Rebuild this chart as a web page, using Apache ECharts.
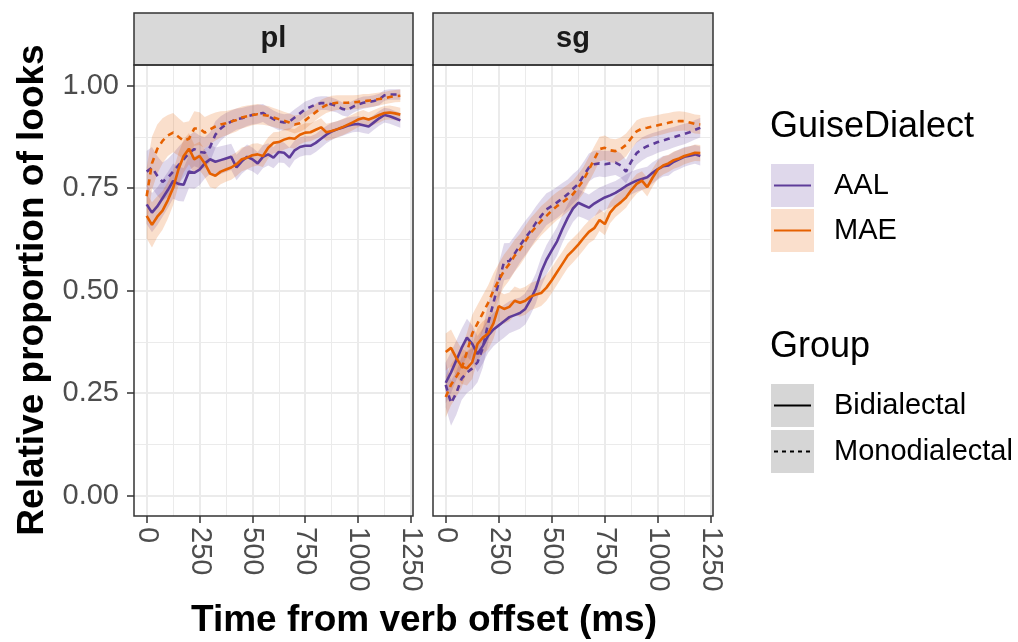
<!DOCTYPE html>
<html><head><meta charset="utf-8">
<script src="https://cdn.jsdelivr.net/npm/echarts@6/dist/echarts.min.js"></script>
<style>html,body{margin:0;padding:0;background:#fff}#c{width:1018px;height:642px}</style>
</head><body><div id="c"></div>
<script>
// ---------------- data ----------------
const panels = ['pl', 'sg'];
const timeMs = [0,25,50,75,100,125,150,175,200,225,250,275,300,325,350,375,400,425,450,475,500,525,550,575,600,625,650,675,700,725,750,775,800,825,850,875,900,925,950,975,1000,1025,1050,1075,1100,1125,1150,1175,1200];
const xTicks = [0,250,500,750,1000,1250];
const xMinor = [125,375,625,875,1125];
const yTicks = [0,0.25,0.5,0.75,1];
const yMinor = [0.125,0.375,0.625,0.875];

// pl panel
const plAALBi   = [0.71,0.69,0.705,0.725,0.745,0.767,0.76,0.758,0.79,0.787,0.795,0.81,0.82,0.814,0.818,0.822,0.826,0.80,0.815,0.826,0.82,0.81,0.826,0.832,0.824,0.838,0.836,0.824,0.842,0.85,0.853,0.853,0.86,0.87,0.88,0.888,0.893,0.897,0.902,0.905,0.906,0.903,0.90,0.91,0.92,0.928,0.925,0.92,0.915];
const plAALMono = [0.79,0.80,0.78,0.765,0.775,0.79,0.805,0.82,0.835,0.845,0.838,0.836,0.85,0.88,0.895,0.905,0.912,0.918,0.92,0.925,0.928,0.93,0.933,0.925,0.918,0.912,0.91,0.912,0.922,0.932,0.942,0.948,0.954,0.957,0.957,0.954,0.95,0.943,0.94,0.948,0.954,0.958,0.96,0.962,0.966,0.976,0.978,0.978,0.978];
const plMAEBi   = [0.682,0.66,0.68,0.695,0.72,0.75,0.795,0.828,0.846,0.82,0.828,0.81,0.785,0.78,0.79,0.795,0.80,0.808,0.82,0.824,0.83,0.832,0.828,0.848,0.86,0.862,0.868,0.872,0.87,0.88,0.885,0.886,0.892,0.898,0.886,0.889,0.893,0.898,0.904,0.91,0.917,0.921,0.917,0.922,0.928,0.933,0.934,0.932,0.929];
const plMAEMono = [0.73,0.81,0.845,0.865,0.878,0.885,0.875,0.865,0.87,0.895,0.895,0.885,0.893,0.90,0.905,0.908,0.912,0.916,0.922,0.925,0.928,0.93,0.928,0.926,0.922,0.918,0.914,0.91,0.905,0.908,0.915,0.925,0.935,0.945,0.952,0.956,0.958,0.958,0.958,0.959,0.96,0.962,0.963,0.965,0.967,0.969,0.972,0.974,0.975];
const plAALBiSe   = [0.048,0.048,0.046,0.045,0.044,0.043,0.042,0.041,0.04,0.039,0.038,0.037,0.036,0.035,0.034,0.033,0.032,0.031,0.03,0.03,0.029,0.028,0.028,0.027,0.026,0.026,0.025,0.025,0.024,0.024,0.023,0.023,0.022,0.022,0.021,0.021,0.02,0.02,0.02,0.019,0.019,0.019,0.018,0.018,0.018,0.018,0.018,0.018,0.018];
const plAALMonoSe = [0.05,0.05,0.048,0.047,0.046,0.045,0.045,0.044,0.043,0.042,0.04,0.038,0.036,0.033,0.03,0.028,0.027,0.026,0.025,0.024,0.023,0.023,0.022,0.022,0.021,0.021,0.02,0.02,0.02,0.019,0.019,0.018,0.018,0.017,0.017,0.017,0.016,0.016,0.016,0.015,0.015,0.015,0.014,0.014,0.014,0.013,0.013,0.013,0.013];
const plMAEBiSe   = [0.055,0.055,0.05,0.047,0.045,0.042,0.04,0.04,0.038,0.036,0.035,0.034,0.033,0.032,0.031,0.03,0.03,0.029,0.029,0.028,0.028,0.027,0.027,0.026,0.026,0.025,0.025,0.024,0.024,0.023,0.023,0.022,0.022,0.022,0.021,0.021,0.02,0.02,0.02,0.019,0.019,0.019,0.018,0.018,0.018,0.017,0.017,0.017,0.017];
const plMAEMonoSe = [0.07,0.065,0.06,0.055,0.05,0.048,0.046,0.045,0.043,0.042,0.04,0.038,0.036,0.034,0.032,0.03,0.029,0.028,0.027,0.026,0.025,0.025,0.024,0.024,0.023,0.023,0.022,0.022,0.022,0.021,0.021,0.02,0.02,0.02,0.019,0.019,0.018,0.018,0.018,0.017,0.017,0.017,0.016,0.016,0.016,0.015,0.015,0.015,0.015];

// sg panel
const sgAALBi   = [0.275,0.30,0.33,0.36,0.385,0.37,0.345,0.365,0.39,0.405,0.415,0.425,0.435,0.44,0.445,0.455,0.478,0.505,0.545,0.575,0.598,0.62,0.65,0.677,0.70,0.714,0.708,0.702,0.712,0.72,0.727,0.732,0.738,0.746,0.755,0.762,0.768,0.772,0.776,0.787,0.796,0.803,0.805,0.814,0.82,0.826,0.829,0.832,0.828];
const sgAALMono = [0.27,0.225,0.25,0.285,0.30,0.31,0.325,0.36,0.42,0.47,0.52,0.57,0.572,0.59,0.61,0.628,0.645,0.665,0.682,0.698,0.706,0.715,0.725,0.735,0.748,0.76,0.78,0.80,0.808,0.81,0.808,0.81,0.812,0.805,0.79,0.815,0.835,0.845,0.852,0.857,0.862,0.866,0.87,0.874,0.878,0.882,0.886,0.892,0.897];
const sgMAEBi   = [0.35,0.36,0.335,0.315,0.31,0.325,0.37,0.385,0.395,0.42,0.462,0.455,0.46,0.475,0.47,0.475,0.485,0.49,0.494,0.507,0.525,0.545,0.565,0.585,0.598,0.612,0.628,0.643,0.652,0.672,0.662,0.69,0.705,0.715,0.727,0.745,0.76,0.768,0.752,0.775,0.795,0.805,0.81,0.818,0.822,0.828,0.832,0.836,0.835];
const sgMAEMono = [0.24,0.27,0.29,0.31,0.35,0.395,0.42,0.445,0.47,0.50,0.525,0.548,0.565,0.585,0.60,0.62,0.64,0.655,0.67,0.682,0.695,0.706,0.715,0.725,0.735,0.752,0.77,0.795,0.82,0.845,0.848,0.842,0.84,0.845,0.855,0.872,0.888,0.895,0.897,0.90,0.903,0.906,0.909,0.912,0.913,0.913,0.91,0.906,0.905];
const sgAALBiSe   = [0.05,0.05,0.048,0.047,0.046,0.045,0.044,0.043,0.042,0.041,0.04,0.04,0.039,0.039,0.038,0.038,0.037,0.037,0.036,0.036,0.035,0.035,0.034,0.034,0.033,0.033,0.032,0.032,0.031,0.031,0.03,0.03,0.029,0.029,0.028,0.028,0.027,0.027,0.026,0.026,0.025,0.025,0.025,0.024,0.024,0.024,0.023,0.023,0.023];
const sgAALMonoSe = [0.055,0.055,0.053,0.052,0.05,0.05,0.049,0.048,0.047,0.046,0.045,0.045,0.044,0.043,0.042,0.042,0.041,0.04,0.04,0.039,0.038,0.038,0.037,0.036,0.036,0.035,0.034,0.034,0.033,0.032,0.032,0.031,0.03,0.03,0.029,0.029,0.028,0.028,0.027,0.027,0.026,0.026,0.026,0.025,0.025,0.025,0.024,0.024,0.024];
const sgMAEBiSe   = [0.045,0.045,0.044,0.043,0.042,0.041,0.04,0.04,0.039,0.038,0.037,0.036,0.035,0.035,0.034,0.034,0.033,0.033,0.032,0.032,0.031,0.031,0.03,0.03,0.03,0.029,0.029,0.028,0.028,0.027,0.027,0.026,0.026,0.025,0.025,0.024,0.024,0.023,0.023,0.022,0.022,0.022,0.021,0.021,0.021,0.02,0.02,0.02,0.02];
const sgMAEMonoSe = [0.05,0.05,0.049,0.048,0.047,0.046,0.045,0.044,0.043,0.042,0.041,0.04,0.04,0.039,0.038,0.038,0.037,0.036,0.036,0.035,0.035,0.034,0.034,0.033,0.033,0.032,0.032,0.031,0.031,0.03,0.03,0.029,0.029,0.028,0.028,0.027,0.027,0.026,0.026,0.025,0.025,0.025,0.024,0.024,0.024,0.023,0.023,0.023,0.023];

// ---------------- chart ----------------
const FONT = '"Liberation Sans", Arial, Helvetica, sans-serif';
const COL  = {AAL: '#5E3C99', MAE: '#E66101'};
const FILL = {AAL: 'rgba(94,60,153,0.2)', MAE: 'rgba(230,97,1,0.2)'};
const DASH = [6, 5];

const defs = [
  {panel: 0, dialect: 'AAL', group: 'Bidialectal',   mean: plAALBi,   se: plAALBiSe},
  {panel: 0, dialect: 'AAL', group: 'Monodialectal', mean: plAALMono, se: plAALMonoSe},
  {panel: 0, dialect: 'MAE', group: 'Bidialectal',   mean: plMAEBi,   se: plMAEBiSe},
  {panel: 0, dialect: 'MAE', group: 'Monodialectal', mean: plMAEMono, se: plMAEMonoSe},
  {panel: 1, dialect: 'AAL', group: 'Bidialectal',   mean: sgAALBi,   se: sgAALBiSe},
  {panel: 1, dialect: 'AAL', group: 'Monodialectal', mean: sgAALMono, se: sgAALMonoSe},
  {panel: 1, dialect: 'MAE', group: 'Bidialectal',   mean: sgMAEBi,   se: sgMAEBiSe},
  {panel: 1, dialect: 'MAE', group: 'Monodialectal', mean: sgMAEMono, se: sgMAEMonoSe}
];

const GRIDS = [
  {left: 134, top: 65, width: 279, height: 451},
  {left: 433, top: 65, width: 280, height: 451}
];

const xAxes = [], yAxes = [];
GRIDS.forEach((g, p) => {
  xAxes.push({
    type: 'value', gridIndex: p, min: -60, max: 1260, position: 'bottom',
    axisLine: {show: false, onZero: false},
    axisTick: {show: true, length: 7, lineStyle: {color: '#333333', width: 1.5}, customValues: xTicks},
    axisLabel: {show: true, customValues: xTicks, rotate: -90, margin: 11, color: '#4D4D4D', fontSize: 29, fontFamily: FONT,
                formatter: v => String(v)},
    splitLine: {show: true, lineStyle: {color: '#EBEBEB', width: 2}}
  });
  xAxes.push({
    type: 'value', gridIndex: p, min: -60, max: 1260, position: 'top',
    axisLine: {show: false, onZero: false},
    axisTick: {show: false, customValues: xMinor},
    axisLabel: {show: false, customValues: xMinor},
    splitLine: {show: true, lineStyle: {color: '#EBEBEB', width: 1}}
  });
  yAxes.push({
    type: 'value', gridIndex: p, min: -0.05, max: 1.05, position: 'left',
    axisLine: {show: false, onZero: false},
    axisTick: {show: p === 0, length: 7, lineStyle: {color: '#333333', width: 1.5}, customValues: yTicks},
    axisLabel: {show: p === 0, customValues: yTicks, margin: 15, color: '#4D4D4D', fontSize: 29, fontFamily: FONT,
                formatter: v => Number(v).toFixed(2)},
    splitLine: {show: true, lineStyle: {color: '#EBEBEB', width: 2}}
  });
  yAxes.push({
    type: 'value', gridIndex: p, min: -0.05, max: 1.05, position: 'right',
    axisLine: {show: false, onZero: false},
    axisTick: {show: false, customValues: yMinor},
    axisLabel: {show: false, customValues: yMinor},
    splitLine: {show: true, lineStyle: {color: '#EBEBEB', width: 1}}
  });
});

const ribbonSeries = [], lineSeries = [];
defs.forEach((d, i) => {
  const ax = {xAxisIndex: 2 * d.panel, yAxisIndex: 2 * d.panel};
  ribbonSeries.push(Object.assign({
    type: 'custom', coordinateSystem: 'cartesian2d', silent: true, z: 2,
    data: [[timeMs[0], d.mean[0]]],
    encode: {x: 0, y: 1},
    renderItem: (params, api) => {
      const upper = timeMs.map((t, k) => api.coord([t, d.mean[k] + d.se[k]]));
      const lower = timeMs.map((t, k) => api.coord([t, d.mean[k] - d.se[k]])).reverse();
      return {type: 'polygon', shape: {points: upper.concat(lower)}, style: {fill: FILL[d.dialect]}};
    }
  }, ax));
  lineSeries.push(Object.assign({
    type: 'line', data: timeMs.map((t, k) => [t, d.mean[k]]), symbol: 'none', silent: true,
    lineStyle: {color: COL[d.dialect], width: 2.6, type: d.group === 'Bidialectal' ? 'solid' : DASH}, z: 3
  }, ax));
});

const txt = (text, x, y, size, opts) => Object.assign({
  type: 'text', x: x, y: y, z: 110,
  style: Object.assign({text: text, fill: '#000000', font: size + 'px ' + FONT,
    textAlign: 'left', align: 'left', textVerticalAlign: 'middle', verticalAlign: 'middle'}, (opts && opts.style) || {})
}, (opts && opts.el) || {});

const graphics = [];
GRIDS.forEach((g, p) => {
  graphics.push({type: 'rect', z: 100, shape: {x: g.left, y: 13, width: g.width, height: 52},
    style: {fill: '#D9D9D9', stroke: '#333333', lineWidth: 1.5}});
  graphics.push(txt(panels[p], g.left + g.width / 2, 39, 29,
    {style: {font: 'bold 29px ' + FONT, fill: '#1A1A1A', textAlign: 'center', align: 'center'}}));
  graphics.push({type: 'rect', z: 100, shape: {x: g.left, y: g.top, width: g.width, height: g.height},
    style: {fill: null, stroke: '#333333', lineWidth: 1.5}});
});
graphics.push(txt('Time from verb offset (ms)', 424, 621, 37,
  {style: {font: 'bold 37px ' + FONT, textAlign: 'center', align: 'center'}}));
graphics.push(txt('Relative proportion of looks', 33, 290, 37,
  {style: {font: 'bold 37px ' + FONT, textAlign: 'center', align: 'center'}, el: {rotation: Math.PI / 2}}));
graphics.push(txt('GuiseDialect', 770, 127, 36));
[['AAL', 164], ['MAE', 209]].forEach(([name, y]) => {
  graphics.push({type: 'rect', z: 100, shape: {x: 771, y: y, width: 43, height: 43}, style: {fill: FILL[name]}});
  graphics.push({type: 'line', z: 101, shape: {x1: 774, y1: y + 21.5, x2: 811, y2: y + 21.5},
    style: {stroke: COL[name], lineWidth: 2.2}});
  graphics.push(txt(name, 834, y + 22, 29));
});
graphics.push(txt('Group', 770, 347, 36));
[['Bidialectal', 384, null], ['Monodialectal', 430, [4, 4]]].forEach(([name, y, dash]) => {
  graphics.push({type: 'rect', z: 100, shape: {x: 771, y: y, width: 43, height: 43}, style: {fill: '#D6D6D6'}});
  graphics.push({type: 'line', z: 101, shape: {x1: 774, y1: y + 21.5, x2: 811, y2: y + 21.5},
    style: {stroke: '#000000', lineWidth: 2.2, lineDash: dash}});
  graphics.push(txt(name, 834, y + 22, 29));
});

const chart = echarts.init(document.getElementById('c'), null, {renderer: 'canvas'});
chart.setOption({
  animation: false,
  backgroundColor: '#FFFFFF',
  grid: GRIDS.map(g => Object.assign({containLabel: false, show: true, backgroundColor: '#FFFFFF', borderWidth: 0}, g)),
  xAxis: xAxes,
  yAxis: yAxes,
  series: ribbonSeries.concat(lineSeries),
  graphic: {elements: graphics}
});
</script>
</body></html>
